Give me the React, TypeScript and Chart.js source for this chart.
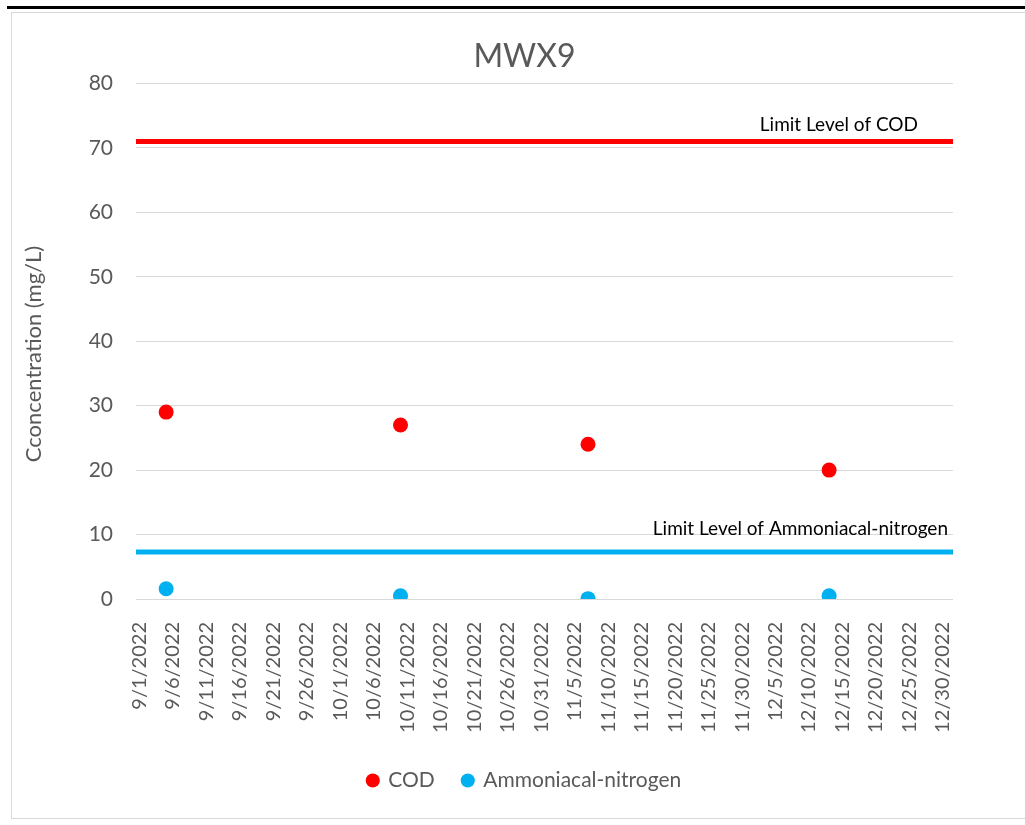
import React, { useEffect, useRef } from "react";
import { Chart, registerables } from "chart.js";

Chart.register(...registerables);

const chartTitle = "MWX9";
const yAxisTitle = "Cconcentration (mg/L)";
const axisStart = "9/1/2022";
const axisEnd = "12/31/2022";
const xTickLabels = [
  "9/1/2022", "9/6/2022", "9/11/2022", "9/16/2022", "9/21/2022", "9/26/2022",
  "10/1/2022", "10/6/2022", "10/11/2022", "10/16/2022", "10/21/2022", "10/26/2022",
  "10/31/2022", "11/5/2022", "11/10/2022", "11/15/2022", "11/20/2022", "11/25/2022",
  "11/30/2022", "12/5/2022", "12/10/2022", "12/15/2022", "12/20/2022", "12/25/2022",
  "12/30/2022",
];
const yTicks = [0, 10, 20, 30, 40, 50, 60, 70, 80];
const sampleDates = ["9/5/2022", "10/10/2022", "11/7/2022", "12/13/2022"];
const codValues = [29, 27, 24, 20];
const nh3Values = [1.6, 0.5, 0.05, 0.5];
const codLimit = 71;
const nh3Limit = 7.3;
const codLimitLabel = "Limit Level of COD";
const nh3LimitLabel = "Limit Level of Ammoniacal-nitrogen";

const FONT = "Lato, 'Open Sans', sans-serif";
const GREY = "#595959";
const RED = "#FF0000";
const BLUE = "#00B0F0";

function dayIndex(s: string): number {
  const [m, d, y] = s.split("/").map(Number);
  const base = Date.UTC(2022, 8, 1);
  return Math.round((Date.UTC(y, m - 1, d) - base) / 86400000);
}

const framePlugin = {
  id: "frame",
  beforeDraw(chart: any) {
    const ctx = chart.ctx;
    ctx.save();
    ctx.fillStyle = "#ffffff";
    ctx.fillRect(0, 0, chart.width, chart.height);
    ctx.strokeStyle = "#D9D9D9";
    ctx.lineWidth = 1;
    ctx.strokeRect(11.5, 12.5, 1040, 806);
    ctx.fillStyle = "#000000";
    ctx.fillRect(7, 6, chart.width - 7, 3);
    ctx.restore();
  },
  afterDraw(chart: any) {
    const ctx = chart.ctx;
    ctx.save();
    ctx.translate(34, 354);
    ctx.rotate(-Math.PI / 2);
    ctx.font = `22px ${FONT}`;
    ctx.fillStyle = GREY;
    ctx.textAlign = "center";
    ctx.textBaseline = "middle";
    ctx.fillText(yAxisTitle, 0, 0);
    ctx.restore();
  },
  afterDatasetsDraw(chart: any) {
    const ctx = chart.ctx;
    const { chartArea, scales } = chart;
    const y = scales.y;
    ctx.save();
    ctx.font = `19px ${FONT}`;
    ctx.fillStyle = "#000000";
    ctx.textAlign = "right";
    ctx.textBaseline = "alphabetic";
    ctx.fillText(codLimitLabel, chartArea.right - 35, y.getPixelForValue(codLimit) - 10);
    ctx.fillText(nh3LimitLabel, chartArea.right - 5, y.getPixelForValue(nh3Limit) - 17);
    ctx.restore();
  },
};

export default function App() {
  const ref = useRef<HTMLCanvasElement | null>(null);

  useEffect(() => {
    if (!ref.current) return;
    const xMin = dayIndex(axisStart) - 0.5;
    const xMax = dayIndex(axisEnd) + 0.5;
    const codPts = sampleDates.map((d, i) => ({ x: dayIndex(d), y: codValues[i] }));
    const nh3Pts = sampleDates.map((d, i) => ({ x: dayIndex(d), y: nh3Values[i] }));

    const chart = new Chart(ref.current, {
      type: "scatter",
      data: {
        datasets: [
          {
            label: "COD",
            data: codPts,
            backgroundColor: RED,
            borderColor: RED,
            borderWidth: 0,
            pointRadius: 7.5,
            pointHoverRadius: 7.5,
            pointStyle: "circle",
          },
          {
            label: "Ammoniacal-nitrogen",
            data: nh3Pts,
            backgroundColor: BLUE,
            borderColor: BLUE,
            borderWidth: 0,
            pointRadius: 7.5,
            pointHoverRadius: 7.5,
            pointStyle: "circle",
          },
          {
            type: "line",
            label: codLimitLabel,
            data: [
              { x: xMin, y: codLimit },
              { x: xMax, y: codLimit },
            ],
            borderColor: RED,
            backgroundColor: RED,
            borderWidth: 5,
            borderCapStyle: "round",
            pointRadius: 0,
            showLine: true,
          } as any,
          {
            type: "line",
            label: nh3LimitLabel,
            data: [
              { x: xMin, y: nh3Limit },
              { x: xMax, y: nh3Limit },
            ],
            borderColor: BLUE,
            backgroundColor: BLUE,
            borderWidth: 5,
            borderCapStyle: "round",
            pointRadius: 0,
            showLine: true,
          } as any,
        ],
      },
      options: {
        animation: false,
        responsive: false,
        maintainAspectRatio: false,
        layout: { padding: { left: 24, right: 0, top: 0, bottom: 24 } },
        plugins: {
          tooltip: { enabled: false },
          title: {
            display: true,
            text: chartTitle,
            color: GREY,
            font: { family: FONT, size: 32, weight: "normal" },
            padding: { top: 37, bottom: 8 },
          },
          legend: {
            display: true,
            position: "bottom",
            labels: {
              usePointStyle: true,
              boxWidth: 10,
              boxHeight: 10,
              padding: 28,
              color: GREY,
              font: { family: FONT, size: 21 },
              filter: (item: any) => item.datasetIndex < 2,
            },
          },
        },
        scales: {
          x: {
            type: "linear",
            min: xMin,
            max: xMax,
            grid: { display: false },
            border: { display: false },
            afterBuildTicks: (scale: any) => {
              scale.ticks = xTickLabels.map((l) => ({ value: dayIndex(l) }));
            },
            afterFit: (scale: any) => {
              scale.height = 143;
            },
            ticks: {
              autoSkip: false,
              minRotation: 90,
              maxRotation: 90,
              padding: 15,
              color: GREY,
              font: { family: FONT, size: 20 },
              callback: (_v: any, i: number) => xTickLabels[i],
            },
          },
          y: {
            type: "linear",
            min: 0,
            max: 80,
            afterBuildTicks: (scale: any) => {
              scale.ticks = yTicks.map((v) => ({ value: v }));
            },
            afterFit: (scale: any) => {
              scale.width = 112;
            },
            grid: { color: "#D9D9D9", lineWidth: 1, drawTicks: false },
            border: { display: false },
            ticks: {
              padding: 23,
              color: GREY,
              font: { family: FONT, size: 21 },
            },
            title: { display: false },
          },
          yR: {
            type: "linear",
            position: "right",
            display: true,
            grid: { display: false, drawTicks: false },
            border: { display: false },
            ticks: { display: false },
            afterFit: (scale: any) => {
              scale.width = 72;
            },
          },
        },
      },
      plugins: [framePlugin],
    });
    return () => chart.destroy();
  }, []);

  return (
    <div style={{ position: "absolute", left: 0, top: 0, width: 1025, height: 825 }}>
      <canvas ref={ref} width={1025} height={825} style={{ display: "block" }} />
    </div>
  );
}
